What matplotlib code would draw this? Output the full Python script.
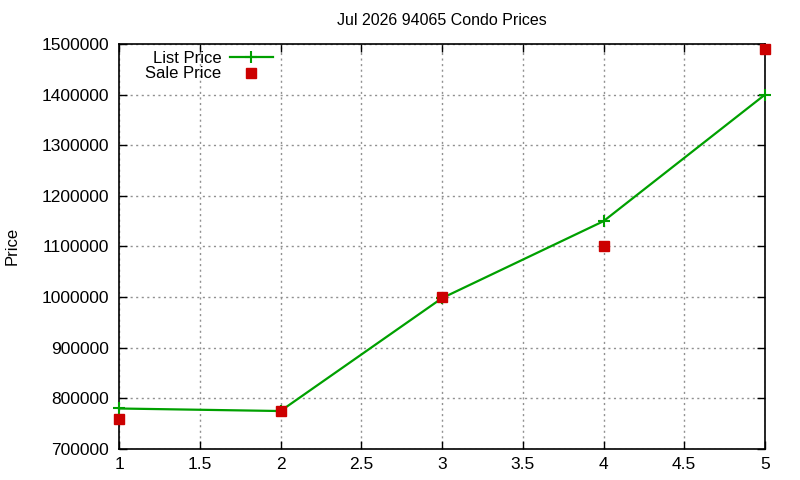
import matplotlib
matplotlib.use("Agg")
import matplotlib.pyplot as plt

plt.rcParams["font.family"] = ["Liberation Sans", "DejaVu Sans"]

# data
months = [1, 2, 3, 4, 5]
list_price = [780000, 775000, 998000, 1150000, 1400000]
sale_price = [760000, 775000, 1000000, 1100000, 1490000]
xticks = [1, 1.5, 2, 2.5, 3, 3.5, 4, 4.5, 5]
yticks = list(range(700000, 1500001, 100000))

fig = plt.figure(figsize=(8, 4.8), dpi=100)
ax = fig.add_axes([119 / 800, 1 - 449 / 480, (765 - 119) / 800, (449 - 44) / 480])

ax.plot(months, list_price, color="#00a000", lw=1.6, marker="+", ms=9, mew=1.5,
        label="List Price", clip_on=False, zorder=3)
ax.plot(months, sale_price, ls="none", marker="s", ms=6.5, color="#cc0000",
        label="Sale Price", clip_on=False, zorder=4)

ax.set_xlim(1, 5)
ax.set_ylim(700000, 1500000)
ax.set_xticks(xticks)
ax.set_xticklabels(["1", "1.5", "2", "2.5", "3", "3.5", "4", "4.5", "5"])
ax.set_yticks(yticks)
ax.set_yticklabels([str(v) for v in yticks])
ax.tick_params(direction="in", length=6, top=True, right=True, labelsize=12.5,
               width=1)
ax.tick_params(axis="x", pad=6)
ax.tick_params(axis="y", pad=7)
ax.grid(True, color="#909090", ls=(0, (1.5, 2.5)), lw=1)
for s in ax.spines.values():
    s.set_linewidth(1.2)

ax.set_title("Jul 2026 94065 Condo Prices", fontsize=11.5, pad=14)
fig.text(12 / 800, 1 - 246 / 480, "Price", rotation=90, fontsize=12,
         ha="center", va="center")

ax.legend(loc="upper left", bbox_to_anchor=(0.03, 1.0), markerfirst=False,
          frameon=False, fontsize=12, handlelength=2.6, labelspacing=0.05,
          borderaxespad=0.0, handletextpad=0.5)

fig.savefig("out.png", dpi=100)
